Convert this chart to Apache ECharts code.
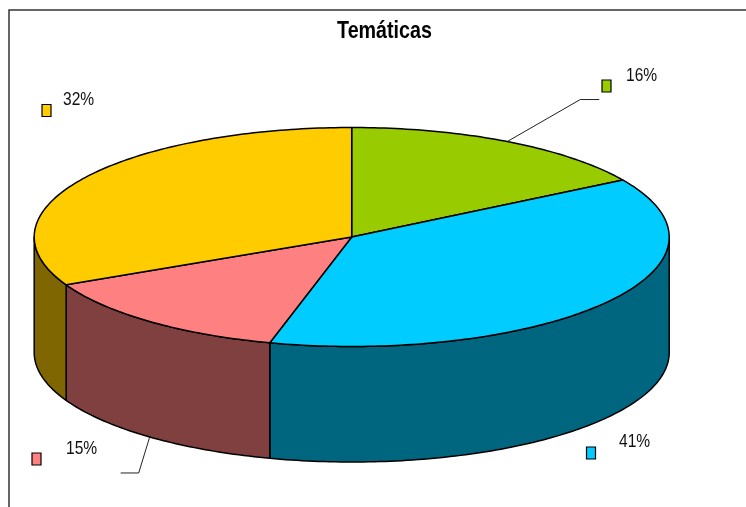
<!DOCTYPE html>
<html>
<head>
<meta charset="utf-8">
<style>html,body{margin:0;padding:0;background:#fff}#c{width:746px;height:507px}</style>
<script src="https://cdn.jsdelivr.net/npm/echarts@6/dist/echarts.min.js"></script>
</head>
<body>
<div id="c"></div>
<script>
const chartTitle = "Temáticas";
const categories = ["Verde", "Azul", "Rosa", "Amarillo"];
const shares = [16.3, 37.85, 13.65, 32.2];
const labels = ["16%", "41%", "15%", "32%"];
const topColors = ["#99CC00", "#00CCFF", "#FF8080", "#FFCC00"];
const sideColors = ["#4D6600", "#006680", "#804040", "#806600"];

// Layout of the drawing (pixels)
const CX = 351.7, CY = 237, RX = 317.5, RY = 109.5, DEPTH = 115.5;
const TEXT_SQUEEZE = 0.82;
const keyBoxes = [[602, 80], [586.5, 447], [32, 453], [42, 104.5]];
const labelAnchors = [[626, 75.5], [619, 442], [66, 448.5], [63, 99.5]];
const leaderBends = [[[73, -42], [92, -42]], null, [[-11, 36], [-29, 36]], null];

const total = shares.reduce((a, b) => a + b, 0);
function ell(t, dy) {
  const r = t * Math.PI / 180;
  return [CX + RX * Math.sin(r), CY - RY * Math.cos(r) + (dy || 0)];
}
function arc(a, b, dy) {
  const pts = [], n = Math.max(2, Math.ceil(Math.abs(b - a)));
  for (let i = 0; i <= n; i++) pts.push(ell(a + (b - a) * i / n, dy));
  return pts;
}
function renderItem(params, api) {
  const i = params.dataIndex;
  let before = 0;
  for (let k = 0; k < i; k++) before += shares[k];
  const a0 = before / total * 360;
  const a1 = a0 + api.value(1) / total * 360;
  const children = [];
  const edge = { stroke: "#000", lineWidth: 1.5, lineJoin: "round" };

  // front wall: only the part of the rim between 90 and 270 degrees is visible
  const s0 = Math.max(a0, 90), s1 = Math.min(a1, 270);
  if (s1 > s0) {
    const upper = arc(s0, s1, 0), lower = arc(s1, s0, DEPTH);
    children.push({
      type: "polygon", z2: 1,
      shape: { points: upper.concat(lower) },
      style: Object.assign({ fill: sideColors[i] }, edge)
    });
  }
  // top face
  children.push({
    type: "polygon", z2: 2,
    shape: { points: [[CX, CY]].concat(arc(a0, a1, 0)) },
    style: Object.assign({ fill: topColors[i] }, edge)
  });
  // leader line from the middle of the slice
  if (leaderBends[i]) {
    const mid = (a0 + a1) / 2;
    const start = ell(mid, Math.cos(mid * Math.PI / 180) < 0 ? DEPTH : 0);
    children.push({
      type: "polyline", z2: 3,
      shape: { points: [start].concat(leaderBends[i].map(o => [start[0] + o[0], start[1] + o[1]])) },
      style: { fill: null, stroke: "#222", lineWidth: 1 }
    });
  }
  // legend key
  children.push({
    type: "rect", z2: 3,
    shape: { x: keyBoxes[i][0], y: keyBoxes[i][1], width: 9, height: 12 },
    style: { fill: topColors[i], stroke: "#000", lineWidth: 1.2 }
  });
  // value label
  children.push({
    type: "text", z2: 3,
    x: labelAnchors[i][0], y: labelAnchors[i][1],
    scaleX: TEXT_SQUEEZE,
    style: {
      x: 0, y: 0, text: labels[i],
      fill: "#111", font: "19px 'Liberation Sans', sans-serif",
      textAlign: "left", textVerticalAlign: "middle"
    }
  });
  return { type: "group", children };
}

const chart = echarts.init(document.getElementById("c"), null, { renderer: "canvas" });
chart.setOption({
  animation: false,
  backgroundColor: "#fff",
  graphic: [{
    type: "rect", silent: true, z: -1,
    shape: { x: 9, y: 10, width: 760, height: 520 },
    style: { fill: "#fff", stroke: "#333", lineWidth: 1.5 }
  }, {
    type: "text", silent: true, z: 5,
    x: 384.5, y: 31, scaleX: TEXT_SQUEEZE,
    style: {
      x: 0, y: 0, text: chartTitle, fill: "#000",
      font: "bold 24px 'Liberation Sans', sans-serif",
      textAlign: "center", textVerticalAlign: "middle"
    }
  }],
  series: [{
    type: "custom",
    coordinateSystem: "none",
    renderItem,
    data: categories.map((c, i) => [c, shares[i]])
  }]
});
</script>
</body>
</html>
